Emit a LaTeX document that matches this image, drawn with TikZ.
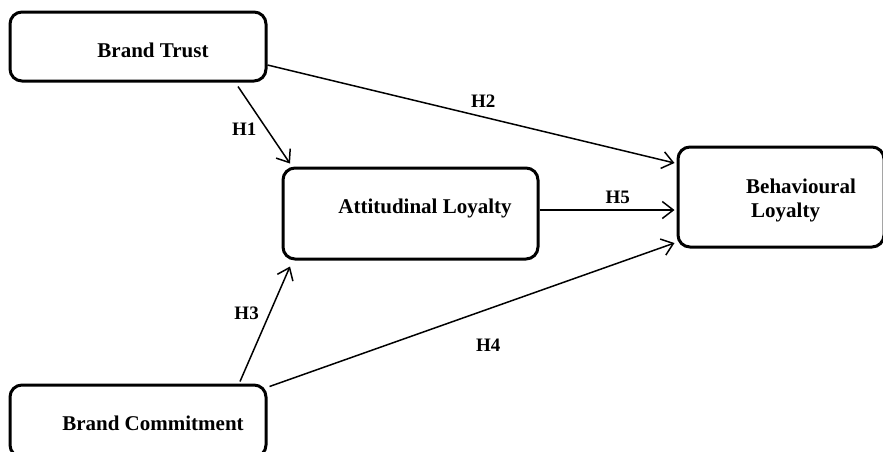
\documentclass[tikz,border=0pt]{standalone}
\usepackage{fontspec}
\setmainfont{Liberation Serif}
\usetikzlibrary{arrows.meta}
\tikzset{
  box/.style={draw,line width=3pt,rounded corners=12pt,fill=white},
  lbl/.style={font=\bfseries\fontsize{21}{24}\selectfont,inner sep=0pt},
  hyp/.style={font=\bfseries\fontsize{19}{21}\selectfont,inner sep=1pt},
  arr/.style={line width=1.5pt,-{Straight Barb[length=11pt,width=17pt,line width=1.5pt]}}
}

\begin{document}
\begin{tikzpicture}[x=1pt,y=-1pt]
\clip (0,0) rectangle (883,451);
% constructs
\node[box,minimum width=256pt,minimum height=69pt] (trust) at (138,46.5) {};
\node[lbl] (trusttxt) at (153,50) {Brand Trust};
\node[box,minimum width=255pt,minimum height=91pt] (att) at (410.5,213.5) {};
\node[lbl] (atttxt) at (425,208) {Attitudinal Loyalty};
\node[box,minimum width=206pt,minimum height=100pt] (beh) at (781,197) {};
\node[lbl,align=left] (behtxt) at (801,200) {Behavioural\\\hspace{5pt}Loyalty};
\node[box,minimum width=256pt,minimum height=72pt] (comm) at (138,421) {};
\node[lbl] (commtxt) at (153,423) {Brand Commitment};
% hypotheses
\draw[arr] ([yshift=-18.5pt]trust.east) -- ([yshift=34pt,xshift=-2pt]beh.west)
  node[hyp,pos=0.53,above=8pt] {H2};
\draw[arr] ([xshift=100pt,yshift=-4pt]trust.south) -- ([xshift=-120.5pt,yshift=3pt]att.north)
  node[hyp,pos=0.56,left=9pt] {H1};
\draw[arr] ([yshift=3.5pt]att.east) -- ([yshift=3.5pt,xshift=-2pt]att.east -| beh.west)
  node[hyp,pos=0.58,above=5pt] {H5};
\draw[arr] ([xshift=102pt,yshift=2pt]comm.north) -- ([xshift=-120.5pt,yshift=-6pt]att.south)
  node[hyp,pos=0.59,left=9pt] {H3};
\draw[arr] ([xshift=2pt,yshift=-3pt]comm.north east) -- ([yshift=-46pt,xshift=-2pt]beh.west)
  node[hyp,pos=0.54,below=28pt] {H4};
\end{tikzpicture}
\end{document}
